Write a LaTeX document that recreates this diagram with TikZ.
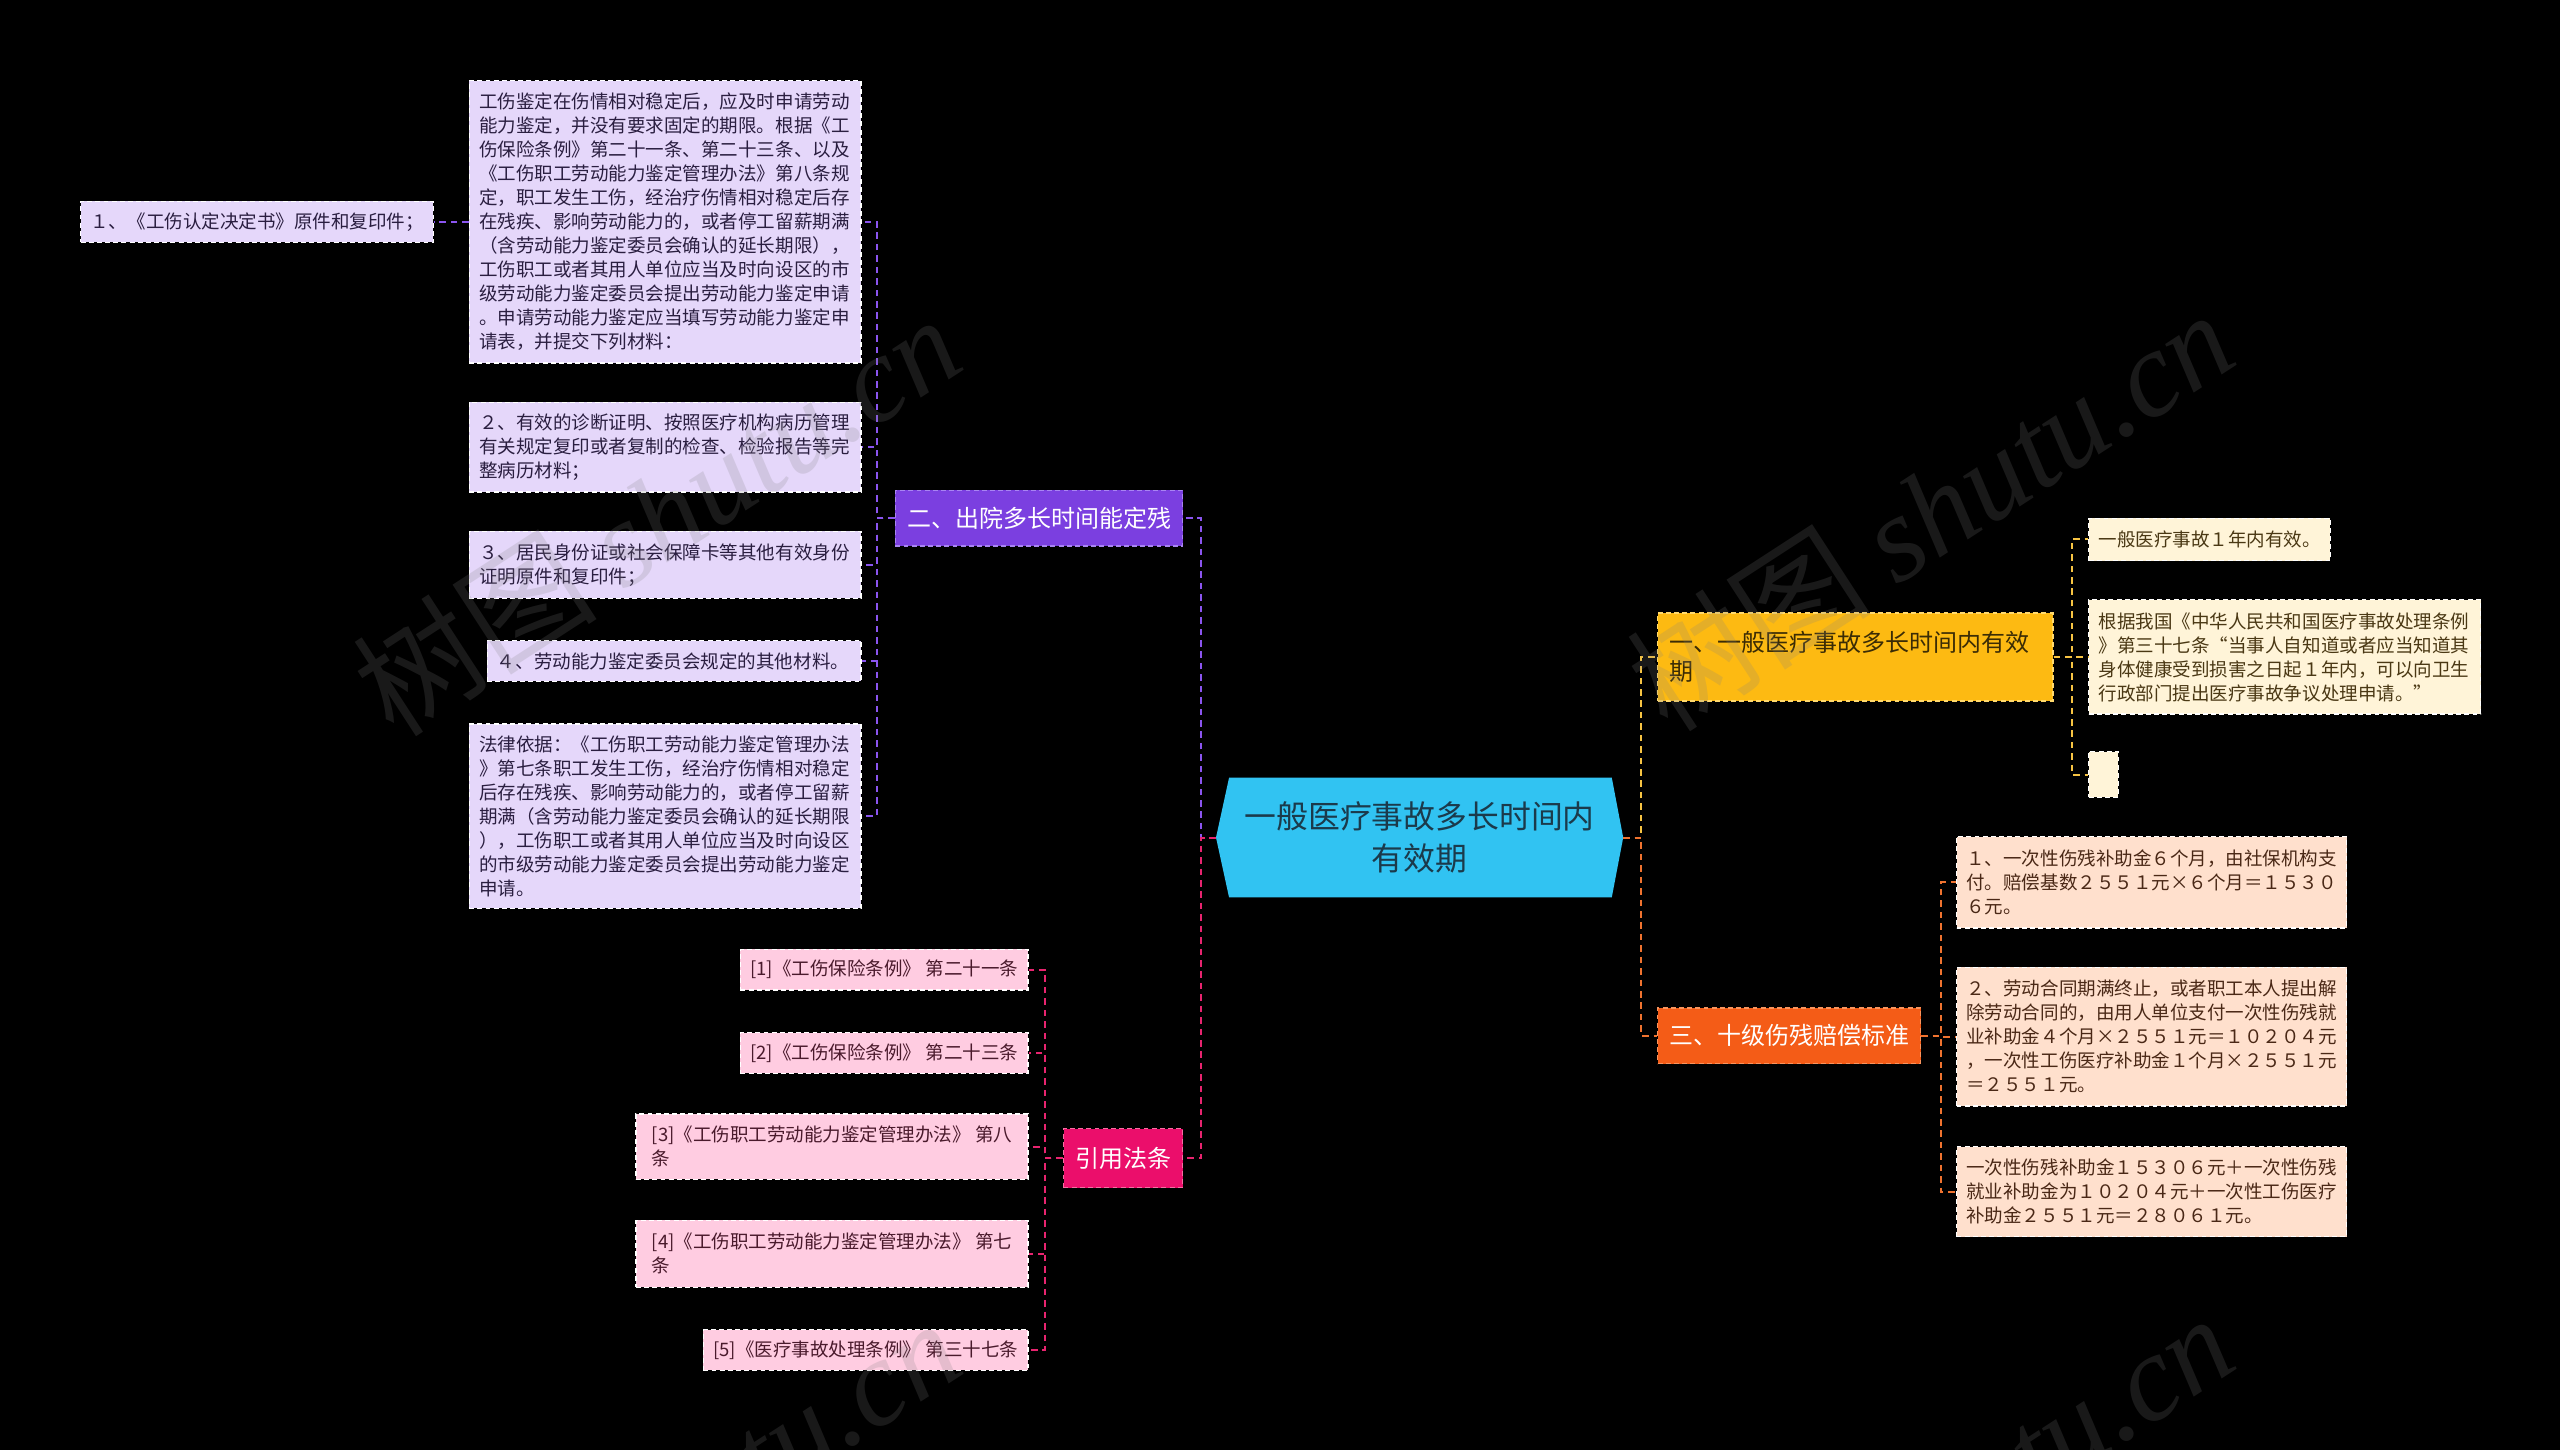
\documentclass[tikz,border=0pt]{standalone}
\usepackage{fontspec}
\setmainfont{Noto Sans CJK SC}
\newfontfamily\wmlatin{Liberation Serif}
\definecolor{cyanC}{HTML}{31C3F2}
\definecolor{cyanTxt}{HTML}{1B3A4B}
\definecolor{purpB}{HTML}{7B3FE0}
\definecolor{purpBd}{HTML}{A884F2}
\definecolor{purpLine}{HTML}{8B55F0}
\definecolor{purpLeaf}{HTML}{E5D7FA}
\definecolor{purpTxt}{HTML}{2A1E40}
\definecolor{pinkB}{HTML}{EB0E6B}
\definecolor{pinkBd}{HTML}{F56FA2}
\definecolor{pinkLine}{HTML}{E8246F}
\definecolor{pinkLeaf}{HTML}{FFCCE1}
\definecolor{pinkTxt}{HTML}{4A1A2C}
\definecolor{ambB}{HTML}{FDBA12}
\definecolor{ambBd}{HTML}{FFD96E}
\definecolor{ambLine}{HTML}{F7C443}
\definecolor{ambLeaf}{HTML}{FFF4D8}
\definecolor{ambTxt}{HTML}{4A3814}
\definecolor{ambBTxt}{HTML}{3B2C05}
\definecolor{orgB}{HTML}{F45C17}
\definecolor{orgBd}{HTML}{F8945E}
\definecolor{orgLine}{HTML}{F0732F}
\definecolor{orgLeaf}{HTML}{FFE0CD}
\definecolor{orgTxt}{HTML}{4A2816}
\tikzset{
  leaf/.style={rectangle, draw=white, dash pattern=on 3pt off 2pt, line width=0.8pt,
    inner xsep=6pt, inner ysep=0pt, align=left, anchor=north west,
    font=\fontsize{11.35}{14.7}\selectfont},
  leafP/.style={leaf, fill=purpLeaf, text=purpTxt},
  leafK/.style={leaf, fill=pinkLeaf, text=pinkTxt, anchor=north east},
  leafY/.style={leaf, fill=ambLeaf, text=ambTxt},
  leafO/.style={leaf, fill=orgLeaf, text=orgTxt},
  branch/.style={rectangle, dash pattern=on 3pt off 2pt, line width=0.8pt,
    inner sep=0pt, anchor=north west, align=center,
    font=\fontsize{14.7}{17.5}\selectfont},
  conn/.style={line width=1.2pt, dash pattern=on 4pt off 3pt},
  connP/.style={conn, draw=purpLine},
  connK/.style={conn, draw=pinkLine},
  connY/.style={conn, draw=ambLine},
  connO/.style={conn, draw=orgLine},
  wm/.style={text=gray, opacity=0.2, font=\fontsize{75}{80}\selectfont, inner sep=0pt}
}
\begin{document}
\begin{tikzpicture}[x=1pt,y=-1pt]
\useasboundingbox (0,0) rectangle (1568,888);
\fill[black] (0,0) rectangle (1568,888);

% central topic
\path (869.5,513) node[minimum width=249pt, minimum height=73pt, inner sep=0pt] (C) {};
\fill[cyanC] (C.west) -- ([xshift=8pt]C.north west) -- ([xshift=-7pt]C.north east)
  -- (C.east) -- ([xshift=-7pt]C.south east) -- ([xshift=8pt]C.south west) -- cycle;
\node[text=cyanTxt, align=center, font=\fontsize{19.5}{26}\selectfont, inner sep=0pt] (Ct) at (C)
  {一般医疗事故多长时间内\\有效期};

% branch: 二
\node[branch, fill=purpB, draw=purpBd, text=white, minimum width=176pt, minimum height=34pt] (P) at (548,300) {二、出院多长时间能定残};
\node[leafP, text width=228pt, minimum height=173pt] (A) at (287,49)
{工伤鉴定在伤情相对稳定后，应及时申请劳动\\
能力鉴定，并没有要求固定的期限。根据《工\\
伤保险条例》第二十一条、第二十三条、以及\\
《工伤职工劳动能力鉴定管理办法》第八条规\\
定，职工发生工伤，经治疗伤情相对稳定后存\\
在残疾、影响劳动能力的，或者停工留薪期满\\
（含劳动能力鉴定委员会确认的延长期限），\\
工伤职工或者其用人单位应当及时向设区的市\\
级劳动能力鉴定委员会提出劳动能力鉴定申请\\
。申请劳动能力鉴定应当填写劳动能力鉴定申\\
请表，并提交下列材料：};
\node[leafP, text width=204pt, minimum height=25pt] (N1) at (49,123) {１、《工伤认定决定书》原件和复印件；};
\node[leafP, text width=228pt, minimum height=55pt] (B) at (287,246)
{２、有效的诊断证明、按照医疗机构病历管理\\
有关规定复印或者复制的检查、检验报告等完\\
整病历材料；};
\node[leafP, text width=228pt, minimum height=41pt] (Cc) at (287,325)
{３、居民身份证或社会保障卡等其他有效身份\\
证明原件和复印件；};
\node[leafP, text width=217pt, minimum height=25pt] (D) at (298,392) {４、劳动能力鉴定委员会规定的其他材料。};
\node[leafP, text width=228pt, minimum height=113pt] (E) at (287,443)
{法律依据：《工伤职工劳动能力鉴定管理办法\\
》第七条职工发生工伤，经治疗伤情相对稳定\\
后存在残疾、影响劳动能力的，或者停工留薪\\
期满（含劳动能力鉴定委员会确认的延长期限\\
），工伤职工或者其用人单位应当及时向设区\\
的市级劳动能力鉴定委员会提出劳动能力鉴定\\
申请。};

% branch: 引用法条
\node[branch, fill=pinkB, draw=pinkBd, text=white, minimum width=73pt, minimum height=36pt] (K) at (651,691) {引用法条};
\node[leafK, minimum height=25pt] (K1) at (630,581) {[1]《工伤保险条例》 第二十一条};
\node[leafK, minimum height=25pt] (K2) at (630,632) {[2]《工伤保险条例》 第二十三条};
\node[leafK, minimum height=40pt, minimum width=240pt] (K3) at (630,682) {[3]《工伤职工劳动能力鉴定管理办法》 第八\\条};
\node[leafK, minimum height=41pt, minimum width=240pt] (K4) at (630,747) {[4]《工伤职工劳动能力鉴定管理办法》 第七\\条};
\node[leafK, minimum height=25pt] (K5) at (630,814) {[5]《医疗事故处理条例》 第三十七条};

% branch: 一
\node[branch, fill=ambB, draw=ambBd, text=ambBTxt, text width=228pt, inner xsep=7pt, align=left, minimum height=54pt] (Y) at (1015,375) {一、一般医疗事故多长时间内有效\\期};
\node[leafY, text width=136pt, minimum height=26pt] (Y1) at (1279,317) {一般医疗事故１年内有效。};
\node[leafY, text width=228pt, minimum height=70pt] (Y2) at (1279,367)
{根据我国《中华人民共和国医疗事故处理条例\\
》第三十七条“当事人自知道或者应当知道其\\
身体健康受到损害之日起１年内，可以向卫生\\
行政部门提出医疗事故争议处理申请。”};
\node[leafY, inner xsep=0pt, minimum width=18pt, minimum height=28pt] (Y3) at (1279,460) {};

% branch: 三
\node[branch, fill=orgB, draw=orgBd, text=white, minimum width=161pt, minimum height=34pt] (O) at (1015,617) {三、十级伤残赔偿标准};
\node[leafO, text width=227pt, minimum height=56pt] (O1) at (1198,512)
{１、一次性伤残补助金６个月，由社保机构支\\
付。赔偿基数２５５１元×６个月＝１５３０\\
６元。};
\node[leafO, text width=227pt, minimum height=85pt] (O2) at (1198,592)
{２、劳动合同期满终止，或者职工本人提出解\\
除劳动合同的，由用人单位支付一次性伤残就\\
业补助金４个月×２５５１元＝１０２０４元\\
，一次性工伤医疗补助金１个月×２５５１元\\
＝２５５１元。};
\node[leafO, text width=227pt, minimum height=55pt] (O3) at (1198,702)
{一次性伤残补助金１５３０６元＋一次性伤残\\
就业补助金为１０２０４元＋一次性工伤医疗\\
补助金２５５１元＝２８０６１元。};

% connectors
\draw[connP] (C.west) -- ++(-9,0) |- (P.east);
\draw[connK] (C.west) -- ++(-9,0) |- (K.east);
\draw[connY] (C.east) -- ++(11,0) |- (Y.west);
\draw[connO] (C.east) -- ++(11,0) |- (O.west);

\foreach \n in {A,B,Cc,D,E} \draw[connP] (P.west) -- ++(-11,0) |- (\n.east);
\draw[connP] (A.west) -- (N1.east);
\foreach \n in {K1,K2,K3,K4,K5} \draw[connK] (K.west) -- ++(-11,0) |- (\n.east);
\foreach \n in {Y1,Y2,Y3} \draw[connY] (Y.east) -- ++(11,0) |- (\n.west);
\foreach \n in {O1,O2,O3} \draw[connO] (O.east) -- ++(12,0) |- (\n.west);

% watermarks
\begin{scope}
\clip (0,0) rectangle (1568,888);
\node[wm, rotate=33] (w1) at (402,315) {树图 {\wmlatin\itshape shutu.cn}};
\node[wm, rotate=33] (w2) at (1182,312) {树图 {\wmlatin\itshape shutu.cn}};
\node[wm, rotate=33] (w3) at (402,930) {树图 {\wmlatin\itshape shutu.cn}};
\node[wm, rotate=33] (w4) at (1182,927) {树图 {\wmlatin\itshape shutu.cn}};
\end{scope}
\end{tikzpicture}
\end{document}
